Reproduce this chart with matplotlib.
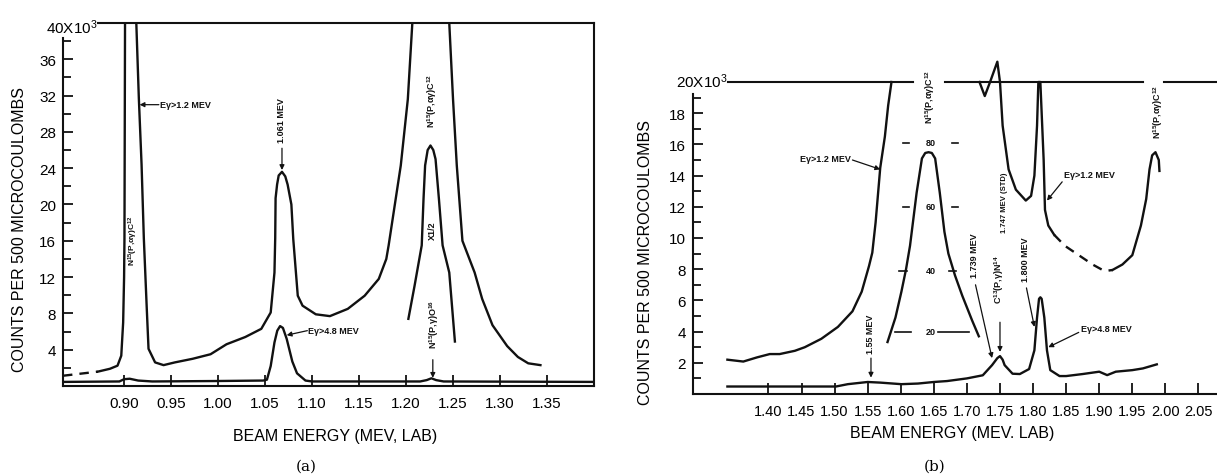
import matplotlib
matplotlib.use("Agg")
import matplotlib.pyplot as plt
import numpy as np

plt.rcParams['font.family'] = ['Liberation Sans', 'DejaVu Sans']
plt.rcParams['mathtext.default'] = 'regular'

# ---------------- panel (a) data ----------------
A_XTICKS = [0.90, 0.95, 1.00, 1.05, 1.10, 1.15, 1.20, 1.25, 1.30, 1.35]
A_YTICKS = [4, 8, 12, 16, 20, 24, 28, 32, 36]

# E gamma > 1.2 MeV (starts dashed at the left)
a_hi_dash_x = [0.835, 0.853, 0.872]
a_hi_dash_y = [1.13, 1.35, 1.58]
a_hi_x = [0.872, 0.885, 0.893, 0.897, 0.899, 0.900, 0.9004, 0.901, 0.901, 0.913, 0.913,
          0.9157, 0.9186, 0.921, 0.924, 0.926, 0.933, 0.942, 0.954, 0.973, 0.992, 1.009,
          1.029, 1.046, 1.056, 1.060, 1.0608, 1.0612, 1.0628, 1.0645, 1.068, 1.0715, 1.074,
          1.078, 1.080, 1.0848, 1.0899, 1.104, 1.119, 1.138, 1.156, 1.171, 1.179, 1.1815,
          1.1944, 1.2019, 1.2067, 1.2067, 1.246, 1.246, 1.250, 1.254, 1.260, 1.273, 1.281,
          1.292, 1.3076, 1.319, 1.330, 1.343]
a_hi_y = [1.58, 1.9, 2.24, 3.34, 7.0, 12.0, 16.3, 40, 42, 42, 40,
          31.7, 24.4, 16.3, 8.85, 4.1, 2.6, 2.3, 2.6, 3.0, 3.5, 4.6,
          5.4, 6.3, 8.1, 12.5, 16.3, 20.7, 22.2, 23.2, 23.6, 23.1, 22.2,
          20.0, 16.2, 9.95, 8.85, 7.9, 7.7, 8.5, 9.95, 11.8, 14.0, 15.5,
          24.3, 31.6, 40, 42, 42, 40, 31.6, 24.3, 16.0, 12.5, 9.6,
          6.7, 4.4, 3.2, 2.5, 2.3]

# N15(p,ag)C12 peak drawn at x1/2
a_half_x = [1.2025, 1.209, 1.2167, 1.2186, 1.2203, 1.223, 1.226, 1.229, 1.2314, 1.235,
            1.2389, 1.246, 1.252]
a_half_y = [7.4, 11.0, 15.5, 20.6, 24.3, 26.0, 26.5, 26.0, 25.0, 20.6, 15.5, 12.5, 4.9]

# E gamma > 4.8 MeV
a_lo_x = [0.835, 0.895, 0.900, 0.906, 0.915, 0.930, 1.000, 1.048, 1.052, 1.056, 1.060,
          1.063, 1.066, 1.069, 1.073, 1.079, 1.084, 1.093, 1.100, 1.215, 1.222, 1.227,
          1.232, 1.240, 1.400]
a_lo_y = [0.45, 0.5, 0.75, 0.8, 0.6, 0.5, 0.55, 0.6, 0.7, 2.2, 4.8,
          6.1, 6.6, 6.4, 5.2, 2.7, 1.4, 0.6, 0.5, 0.5, 0.65, 0.85,
          0.65, 0.5, 0.45]

# ---------------- panel (b) data ----------------
B_XTICKS = [1.40, 1.45, 1.50, 1.55, 1.60, 1.65, 1.70, 1.75, 1.80, 1.85, 1.90, 1.95, 2.00, 2.05]
B_YTICKS = [2, 4, 6, 8, 10, 12, 14, 16, 18]

b_hi_left_x = [1.338, 1.362, 1.383, 1.402, 1.417, 1.440, 1.455, 1.480, 1.505, 1.527,
               1.541, 1.552, 1.557, 1.562, 1.569, 1.576, 1.581, 1.586]
b_hi_left_y = [2.2, 2.08, 2.35, 2.56, 2.56, 2.77, 3.0, 3.54, 4.3, 5.3,
               6.56, 8.2, 9.06, 11.0, 14.5, 16.5, 18.5, 20.0]
b_hi_mid_x = [1.719, 1.727, 1.735, 1.746, 1.750, 1.754, 1.763, 1.774, 1.789, 1.797,
              1.802, 1.806, 1.808, 1.811, 1.816, 1.818, 1.823, 1.832]
b_hi_mid_y = [20.0, 19.1, 20.0, 21.3, 20.0, 17.2, 14.4, 13.1, 12.4, 12.7,
              14.0, 17.2, 20.0, 20.0, 15.0, 11.8, 10.8, 10.2]
b_hi_dash_x = [1.832, 1.848, 1.869, 1.890, 1.905, 1.912, 1.920]
b_hi_dash_y = [10.2, 9.5, 8.9, 8.3, 7.95, 7.9, 7.95]
b_hi_right_x = [1.920, 1.935, 1.950, 1.963, 1.971, 1.976, 1.980, 1.985, 1.990, 1.991]
b_hi_right_y = [7.95, 8.3, 8.9, 10.8, 12.5, 14.4, 15.3, 15.5, 15.0, 14.3]

# N15(p,ag)C12 peak on its own 20..80 scale
b_inset_x = [1.580, 1.592, 1.601, 1.608, 1.614, 1.624, 1.632, 1.637, 1.642, 1.647, 1.652,
             1.659, 1.666, 1.672, 1.682, 1.693, 1.708, 1.718]
b_inset_y = [3.33, 4.9, 6.56, 8.0, 9.5, 12.9, 15.1, 15.45, 15.5, 15.45, 15.1,
             12.9, 10.4, 9.0, 7.6, 6.3, 4.7, 3.7]
INSET_LABELS = ['20', '40', '60', '80']
INSET_LEVELS = [4.0, 7.9, 12.0, 16.1]

b_lo_x = [1.338, 1.400, 1.502, 1.520, 1.550, 1.569, 1.601, 1.626, 1.650, 1.670, 1.700,
          1.724, 1.738, 1.746, 1.750, 1.754, 1.757, 1.769, 1.780, 1.794, 1.802, 1.806,
          1.809, 1.811, 1.813, 1.817, 1.821, 1.826, 1.840, 1.850, 1.875, 1.900, 1.912,
          1.925, 1.950, 1.966, 1.987]
b_lo_y = [0.48, 0.48, 0.48, 0.63, 0.77, 0.73, 0.63, 0.67, 0.77, 0.83, 1.0,
          1.2, 1.85, 2.3, 2.43, 2.2, 1.85, 1.3, 1.28, 1.6, 2.8, 4.9,
          6.1, 6.2, 6.1, 4.9, 2.8, 1.53, 1.15, 1.15, 1.28, 1.43, 1.21,
          1.43, 1.53, 1.64, 1.9]

INK = '#111111'
LW = 1.7
W, H = 1217, 477


def px_box(left, top, right, bottom):
    return [left / W, 1 - bottom / H, (right - left) / W, (bottom - top) / H]


def arrow(ax, head, tail, lw=0.9):
    ax.annotate('', xy=head, xytext=tail,
                arrowprops=dict(arrowstyle='-|>', color=INK, lw=lw,
                                mutation_scale=7, shrinkA=0, shrinkB=0))


def style_axis(ax, xticks, yticks, minor):
    ax.set_xticks(xticks)
    ax.set_xticklabels(['%.2f' % t for t in xticks])
    ax.set_yticks(yticks)
    ax.set_yticks(minor, minor=True)
    ax.tick_params(axis='both', which='both', direction='in', color=INK, width=1.3)
    ax.tick_params(axis='x', length=8, pad=7, labelsize=11)
    ax.tick_params(axis='y', which='major', length=7, pad=5, labelsize=11)
    ax.tick_params(axis='y', which='minor', length=6)
    for s in ax.spines.values():
        s.set_color(INK)
        s.set_linewidth(1.5)


fig = plt.figure(figsize=(W / 100, H / 100), dpi=100)

# ================= panel (a) =================
axa = fig.add_axes(px_box(63, 24, 594, 387))
axa.set_xlim(0.835, 1.40)
axa.set_ylim(0, 40)
style_axis(axa, A_XTICKS, A_YTICKS, np.arange(2, 40, 4))
axa.spines['left'].set_bounds(0, 38.4)
axa.spines['top'].set_bounds(0.872, 1.40)

axa.plot(a_hi_dash_x, a_hi_dash_y, color=INK, lw=LW, ls=(0, (4, 3)))
axa.plot(a_hi_x, a_hi_y, color=INK, lw=LW)
axa.plot(a_half_x, a_half_y, color=INK, lw=LW)
axa.plot(a_lo_x, a_lo_y, color=INK, lw=LW)

axa.text(0.872, 39.6, '40X10$^3$', ha='right', va='center', fontsize=11, clip_on=False)

small = dict(fontsize=6.5, color=INK, fontweight='bold')
axa.text(0.9098, 16.1, 'N$^{15}$(P,αγ)C$^{12}$', rotation=90, ha='center', va='center',
         fontsize=6, color=INK, fontweight='bold')
arrow(axa, (0.9165, 31.0), (0.937, 31.0))
axa.text(0.938, 31.0, 'Eγ>1.2 MEV', ha='left', va='center', **small)
axa.text(1.068, 29.4, '1.061 MEV', rotation=90, ha='center', va='center', **small)
arrow(axa, (1.068, 23.8), (1.068, 26.2))
axa.text(1.228, 31.5, 'N$^{15}$(P,αγ)C$^{12}$', rotation=90, ha='center', va='center', **small)
axa.text(1.2285, 17.2, 'X1/2', rotation=90, ha='center', va='center', **small)
arrow(axa, (1.073, 5.6), (1.095, 6.1))
axa.text(1.096, 6.1, 'Eγ>4.8 MEV', ha='left', va='center', **small)
axa.text(1.2297, 6.9, 'N$^{15}$(P,γ)O$^{16}$', rotation=90, ha='center', va='center', **small)
arrow(axa, (1.2285, 0.9), (1.2285, 2.9))

fig.text(20 / W, 1 - 229 / H, 'COUNTS PER 500 MICROCOULOMBS', rotation=90,
         ha='center', va='center', fontsize=11.5)
fig.text(335 / W, 1 - 437 / H, 'BEAM ENERGY (MEV, LAB)', ha='center', va='center', fontsize=11.5)
fig.text(306 / W, 1 - 467 / H, '(a)', ha='center', va='center', fontsize=11, family='DejaVu Serif')

# ================= panel (b) =================
axb = fig.add_axes(px_box(693, 395 - 22 * 15.6, 1217, 395))
axb.set_xlim(1.286, 2.078)
axb.set_ylim(0, 22)
style_axis(axb, B_XTICKS, B_YTICKS, np.arange(1, 20, 2))
axb.tick_params(axis='x', labelsize=10.5)
axb.spines['top'].set_visible(False)
axb.spines['right'].set_visible(False)
axb.spines['left'].set_bounds(0, 19.2)

for x0, x1 in [(1.339, 1.619), (1.667, 1.966), (1.998, 2.078)]:
    axb.plot([x0, x1], [20, 20], color=INK, lw=1.5)
axb.text(1.338, 20.1, '20X10$^3$', ha='right', va='center', fontsize=11, clip_on=False)

axb.plot(b_hi_left_x, b_hi_left_y, color=INK, lw=LW)
axb.plot(b_hi_mid_x, b_hi_mid_y, color=INK, lw=LW)
axb.plot(b_hi_dash_x, b_hi_dash_y, color=INK, lw=LW, ls=(0, (4, 3)))
axb.plot(b_hi_right_x, b_hi_right_y, color=INK, lw=LW)
axb.plot(b_inset_x, b_inset_y, color=INK, lw=LW)
axb.plot(b_lo_x, b_lo_y, color=INK, lw=LW)

# inset scale 20..80
dash_spans = {'80': [(1.603, 1.612), (1.677, 1.686)],
              '60': [(1.603, 1.612), (1.677, 1.686)],
              '40': [(1.597, 1.610), (1.673, 1.684)],
              '20': [(1.592, 1.616), (1.657, 1.703)]}
for lab, lev in zip(INSET_LABELS, INSET_LEVELS):
    axb.text(1.645, lev, lab, ha='center', va='center', **small)
    for x0, x1 in dash_spans[lab]:
        axb.plot([x0, x1], [lev, lev], color=INK, lw=1.2)

axb.text(1.645, 19.1, 'N$^{15}$(P,αγ)C$^{12}$', rotation=90, ha='center', va='center', **small)
axb.text(1.989, 18.15, 'N$^{15}$(P,αγ)C$^{12}$', rotation=90, ha='center', va='center', **small)

axb.text(1.524, 15.1, 'Eγ>1.2 MEV', ha='right', va='center', **small)
arrow(axb, (1.569, 14.4), (1.527, 15.0))
axb.text(1.846, 14.1, 'Eγ>1.2 MEV', ha='left', va='center', **small)
arrow(axb, (1.821, 12.4), (1.844, 13.6))

axb.text(1.757, 12.35, '1.747 MEV (STD)', rotation=90, ha='center', va='center',
         fontsize=5.5, color=INK, fontweight='bold')
axb.text(1.712, 8.9, '1.739 MEV', rotation=90, ha='center', va='center', **small)
arrow(axb, (1.738, 2.3), (1.713, 7.0))
axb.text(1.749, 7.4, 'C$^{13}$(P,γ)N$^{14}$', rotation=90, ha='center', va='center', **small)
arrow(axb, (1.750, 2.7), (1.750, 4.6))
axb.text(1.789, 8.7, '1.800 MEV', rotation=90, ha='center', va='center', **small)
arrow(axb, (1.802, 4.3), (1.790, 6.8))
axb.text(1.555, 3.9, '1.55 MEV', rotation=90, ha='center', va='center', **small)
arrow(axb, (1.555, 1.05), (1.555, 2.3))
axb.text(1.872, 4.17, 'Eγ>4.8 MEV', ha='left', va='center', **small)
arrow(axb, (1.823, 3.0), (1.869, 3.95))

fig.text(645 / W, 1 - 263 / H, 'COUNTS PER 500 MICROCOULOMBS', rotation=90,
         ha='center', va='center', fontsize=11.5)
fig.text(952 / W, 1 - 434 / H, 'BEAM ENERGY (MEV. LAB)', ha='center', va='center', fontsize=11.5)
fig.text(935 / W, 1 - 467 / H, '(b)', ha='center', va='center', fontsize=11, family='DejaVu Serif')

fig.savefig('out.png', dpi=100)
